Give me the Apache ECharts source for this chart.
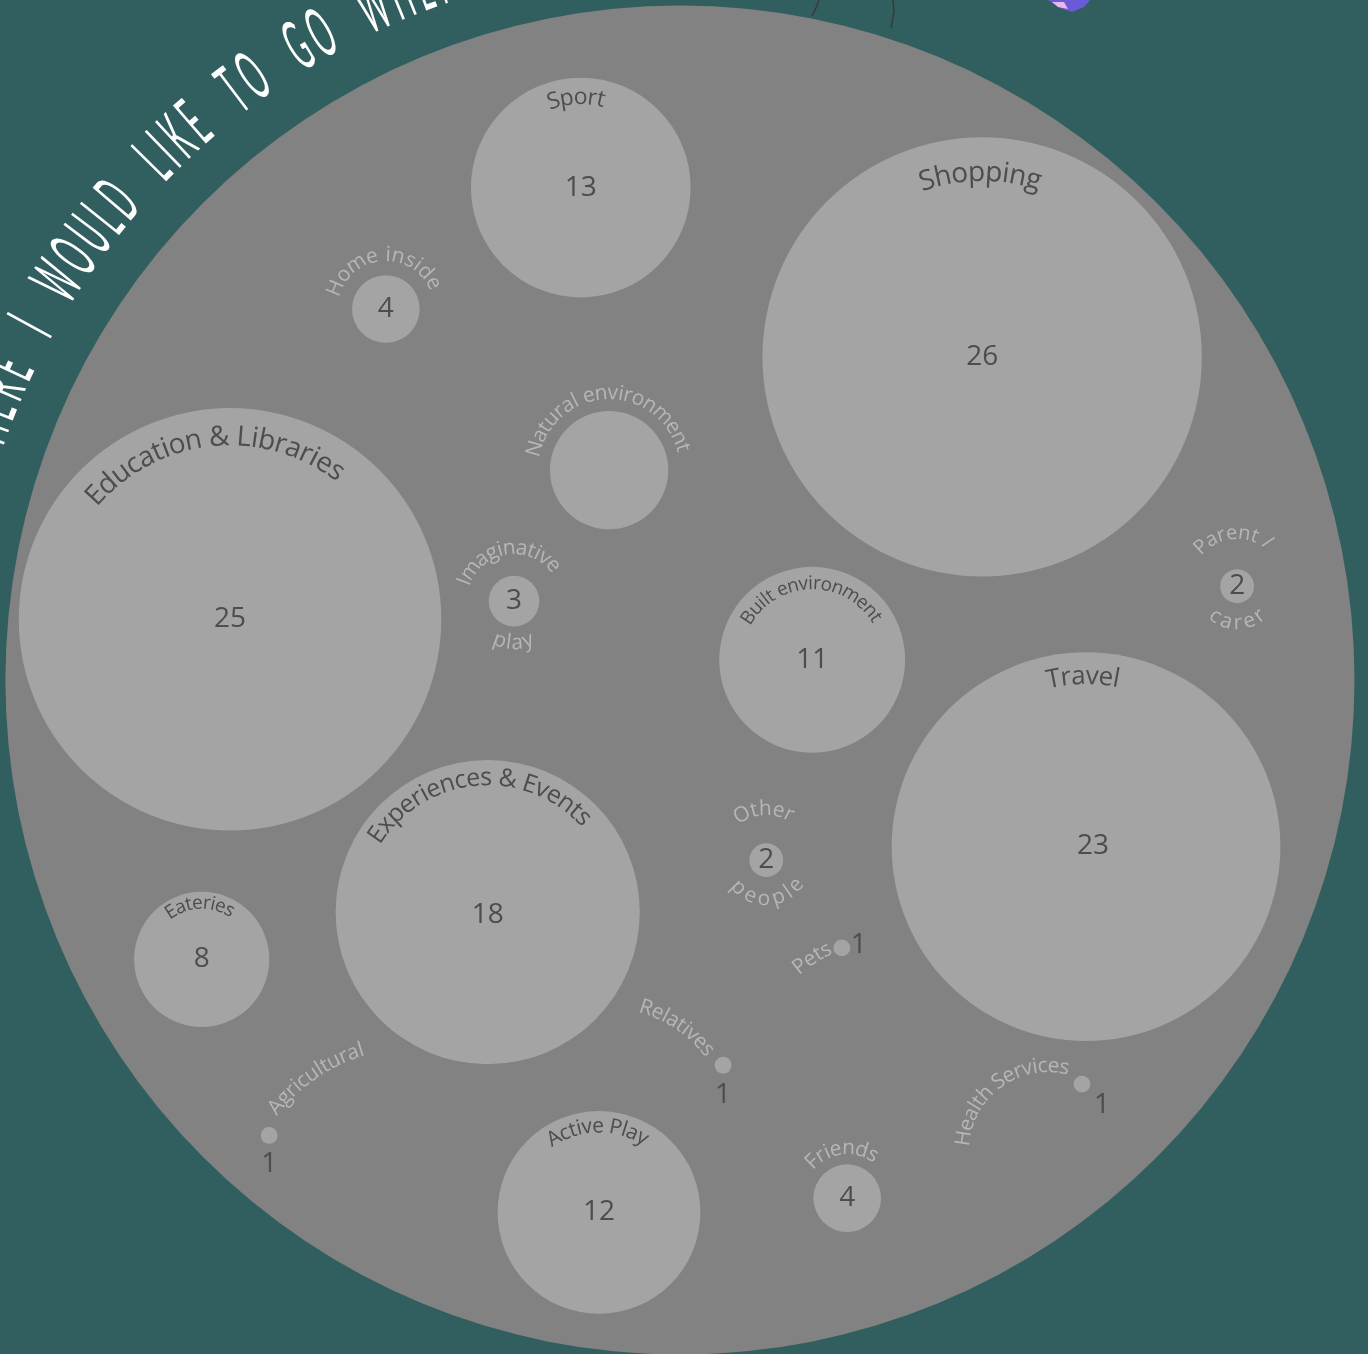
<!DOCTYPE html>
<html>
<head>
<meta charset="utf-8">
<title>Where I would like to go</title>
<script src="https://cdn.jsdelivr.net/npm/echarts@6/dist/echarts.min.js"></script>
<style>
    html, body { margin: 0; padding: 0; background: #315e5e; }
    #chart { width: 1368px; height: 1354px; }
</style>
</head>
<body>
<div id="chart"></div>
<script>
    // places children said they would like to go, and how often each was named
    var categories = ['Sport', 'Shopping', 'Home inside', 'Natural environment', 'Education & Libraries',
        'Imaginative play', 'Built environment', 'Parent / carer', 'Travel', 'Experiences & Events',
        'Other people', 'Eateries', 'Pets', 'Relatives', 'Agricultural', 'Health Services',
        'Active Play', 'Friends'];
    var counts = [13, 26, 4, 7, 25, 3, 11, 2, 23, 18, 2, 8, 1, 1, 1, 1, 12, 4];
    // bubble layout inside the big circle (circle radius = 100 units)
    var posX = [-14.7, 44.8, -43.6, -10.5, -66.7, -24.6, 19.6, 82.6, 60.2, -28.5, 12.8, -70.9, 24.0, 6.4, -60.9, 59.6, -12.0, 24.8];
    var posY = [73.0, 47.9, 55.0, 31.1, 9.0, 11.7, 3.0, 13.9, -24.7, -34.4, -26.7, -41.4, -39.7, -57.1, -67.5, -59.9, -78.9, -76.8];
    var hideValue = ['Natural environment'];
    var titleText = 'WHERE I WOULD LIKE TO GO WHEN';

    var BG = '#315e5e', PLATE = '#818281', BUBBLE = '#a4a4a4';
    var DARK = '#4d4d4d', LIGHT = '#b6b6b6';
    var FONT = '"Open Sans", "Noto Sans", sans-serif';
    var UNITS_PER_COUNT = 1.2526; // bubble radius grows with the count

    // curved labels: R = radius of text line (px), mid = middle angle (deg, 90 = top)
    var labelParts = {
        'Sport': [{t: 'Sport', R: 90, mid: 93, size: 23, dark: 1}],
        'Shopping': [{t: 'Shopping', R: 184, mid: 90.6, size: 28, dark: 1}],
        'Home inside': [{t: 'Home inside', R: 54, mid: 94, size: 21, sp: 1.2}],
        'Natural environment': [{t: 'Natural environment', R: 77, mid: 92, size: 21, sp: 0.2}],
        'Education & Libraries': [{t: 'Education & Libraries', R: 182, mid: 96, size: 28, dark: 1}],
        'Imaginative play': [{t: 'Imaginative', R: 53, mid: 99, size: 21, sp: 0.3},
            {t: 'play', R: 42, mid: 269, size: 21, bottom: 1}],
        'Built environment': [{t: 'Built environment', R: 76, mid: 91, size: 19, dark: 1}],
        'Parent / carer': [{t: 'Parent /', R: 53, mid: 95, size: 20, sp: 1},
            {t: 'carer', R: 37, mid: 270, size: 21, sp: 1.5, bottom: 1}],
        'Travel': [{t: 'Travel', R: 170, mid: 91, size: 26, dark: 1}],
        'Experiences & Events': [{t: 'Experiences & Events', R: 134, mid: 95, size: 25, dark: 1}],
        'Other people': [{t: 'Other', R: 51, mid: 93, size: 21, sp: 1},
            {t: 'people', R: 39, mid: 272, size: 21, sp: 2, bottom: 1}],
        'Eateries': [{t: 'Eateries', R: 56, mid: 92, size: 19, dark: 1}],
        'Pets': [{t: 'Pets', R: 150, mid: 123, size: 21, ox: 52, oy: 136}],
        'Relatives': [{t: 'Relatives', R: 134, mid: 56, size: 21, ox: -119, oy: 70}],
        'Agricultural': [{t: 'Agricultural', R: 177, mid: 124.5, size: 21, ox: 144, oy: 84}],
        'Health Services': [{t: 'Health Services', R: 85, mid: 126, size: 21, ox: -34, oy: 67}],
        'Active Play': [{t: 'Active Play', R: 86, mid: 91, size: 21, dark: 1}],
        'Friends': [{t: 'Friends', R: 50, mid: 97, size: 21, sp: 0.5}]
    };
    // where the number goes when it is not dead centre (px from centre)
    var valueOffset = {
        'Travel': [7, -1],
        'Experiences & Events': [0, 3],
        'Pets': [17, -3],
        'Relatives': [0, 30],
        'Agricultural': [0, 29],
        'Health Services': [20, 21]
    };

    var measureCtx = document.createElement('canvas').getContext('2d');

    function arcText(cx, cy, part, color, family) {
        var font = part.size + 'px ' + family;
        measureCtx.font = font;
        var sp = part.sp || 0;
        var chars = part.t.split('');
        var widths = chars.map(function (ch) { return measureCtx.measureText(ch).width; });
        var total = widths.reduce(function (a, b) { return a + b; }, 0) + sp * (chars.length - 1);
        var span = total / part.R;
        var mid = part.mid * Math.PI / 180;
        var acc = 0;
        var els = [];
        chars.forEach(function (ch, k) {
            var off = (acc + widths[k] / 2) / part.R;
            acc += widths[k] + sp;
            if (ch === ' ') return;
            var theta, rot;
            if (part.bottom) {
                theta = mid - span / 2 + off;
                rot = theta + Math.PI / 2;
            } else {
                theta = mid + span / 2 - off;
                rot = theta - Math.PI / 2;
            }
            els.push({
                type: 'text',
                x: cx + part.R * Math.cos(theta),
                y: cy - part.R * Math.sin(theta),
                rotation: rot,
                style: {text: ch, fill: color, font: font, align: 'center', verticalAlign: 'middle'}
            });
        });
        return els;
    }

    function renderPlate(params, api) {
        var c = api.coord([api.value(0), api.value(1)]);
        var r = api.size([api.value(2), 0])[0];
        var children = [{
            type: 'circle',
            shape: {cx: c[0], cy: c[1], r: r},
            style: {fill: PLATE}
        }];
        // title running round the outside of the plate
        var R = r + 64;
        var font = 'normal 70px Lato, ' + FONT;
        measureCtx.font = font;
        var sx = 0.38, sp = 6, spaceW = 22;
        var w = titleText.split('').map(function (ch) {
            return ch === ' ' ? spaceW : measureCtx.measureText(ch).width * sx;
        });
        var pos = [], acc = 0;
        w.forEach(function (wk) { pos.push(acc + wk / 2); acc += wk + sp; });
        var anchor = titleText.indexOf('LIKE');
        var anchorAngle = 135.5 * Math.PI / 180;
        titleText.split('').forEach(function (ch, k) {
            if (ch === ' ') return;
            var theta = anchorAngle - (pos[k] - pos[anchor]) / R;
            children.push({
                type: 'text',
                x: c[0] + R * Math.cos(theta),
                y: c[1] - R * Math.sin(theta),
                rotation: theta - Math.PI / 2,
                scaleX: sx,
                style: {text: ch, fill: '#ffffff', font: font, align: 'center', verticalAlign: 'middle'}
            });
        });
        return {type: 'group', children: children};
    }

    function renderBubble(params, api) {
        var name = categories[params.dataIndex];
        var c = api.coord([api.value(0), api.value(1)]);
        var r = api.size([api.value(2) * UNITS_PER_COUNT, 0])[0];
        var children = [{
            type: 'circle',
            shape: {cx: c[0], cy: c[1], r: r},
            style: {fill: BUBBLE}
        }];
        if (hideValue.indexOf(name) < 0) {
            var off = valueOffset[name] || [0, 0];
            children.push({
                type: 'text',
                x: c[0] + off[0],
                y: c[1] + off[1],
                style: {
                    text: String(api.value(2)),
                    fill: DARK,
                    font: '28px ' + FONT,
                    align: 'center',
                    verticalAlign: 'middle'
                }
            });
        }
        (labelParts[name] || []).forEach(function (p) {
            var cx = c[0] + (p.ox || 0), cy = c[1] + (p.oy || 0);
            children = children.concat(arcText(cx, cy, p, p.dark ? DARK : LIGHT, FONT));
        });
        return {type: 'group', children: children};
    }

    var chart = echarts.init(document.getElementById('chart'));
    chart.setOption({
        backgroundColor: BG,
        animation: false,
        grid: {left: 0, right: 0, top: 0, bottom: 0},
        xAxis: {type: 'value', min: -100.8, max: 102.0, show: false},
        yAxis: {type: 'value', min: -99.9, max: 100.8, show: false},
        graphic: [
            // bits of the illustration poking in at the top edge
            {type: 'polyline', shape: {points: [[819, 0], [816, 8], [812, 16]]}, style: {stroke: '#3a3a3a', lineWidth: 1.5, fill: null}},
            {type: 'polyline', shape: {points: [[893, 0], [894, 12], [891, 28]]}, style: {stroke: '#3a3a3a', lineWidth: 1.5, fill: null}},
            {type: 'polygon', shape: {points: [[1048, 0], [1090, 0], [1084, 7], [1072, 12], [1060, 8]]}, style: {fill: '#6a5ad8'}},
            {type: 'polygon', shape: {points: [[1052, 2], [1064, 2], [1068, 9], [1058, 7]]}, style: {fill: '#e8b8e8'}}
        ],
        series: [{
            type: 'custom',
            name: 'plate',
            renderItem: renderPlate,
            clip: false,
            silent: true,
            data: [[0, 0, 100]],
            z: 1
        }, {
            type: 'custom',
            name: 'places',
            renderItem: renderBubble,
            clip: false,
            data: categories.map(function (c, i) { return [posX[i], posY[i], counts[i]]; }),
            z: 2
        }]
    });
</script>
</body>
</html>
